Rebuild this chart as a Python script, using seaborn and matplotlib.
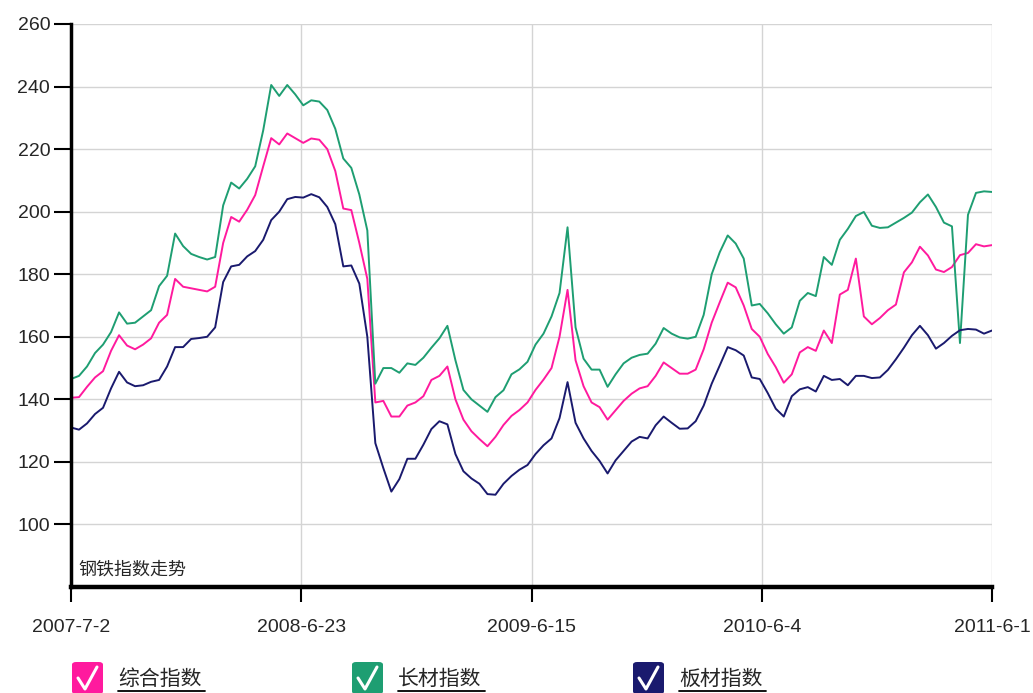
import matplotlib
matplotlib.use("Agg")
import matplotlib.pyplot as plt
from matplotlib.lines import Line2D
from matplotlib.patches import FancyBboxPatch
import numpy as np
import pandas as pd
import seaborn as sns

# 钢铁指数, weekly-ish samples from 2007-7-2 to 2011-6-1
tick_labels = ["2007-7-2", "2008-6-23", "2009-6-15", "2010-6-4", "2011-6-1"]

composite = [
    140.5, 140.7, 144.0, 147.0, 149.0, 155.5, 160.5, 157.2, 156.0, 157.5,
    159.5, 164.5, 167.0, 178.5, 176.0, 175.5, 175.0, 174.5, 176.0, 190.0,
    198.3, 196.8, 200.6, 205.3, 214.5, 223.5, 221.5, 225.0, 223.5, 222.0,
    223.4, 223.0, 220.0, 213.0, 201.0, 200.5, 190.0, 178.5, 139.0, 139.5,
    134.5, 134.5, 138.0, 139.0, 141.0, 146.2, 147.5, 150.5, 140.0, 133.5,
    129.8, 127.3, 125.0, 128.0, 131.8, 134.7, 136.6, 139.0, 143.0, 146.3,
    150.0, 160.0, 175.0, 152.5, 144.2, 139.0, 137.5, 133.5, 136.5, 139.5,
    141.8, 143.5, 144.2, 147.5, 151.8, 150.0, 148.2, 148.2, 149.5, 156.0,
    164.5, 171.0, 177.3, 175.8, 170.0, 162.5, 160.0, 154.5, 150.3, 145.3,
    148.0, 155.0, 156.7, 155.5, 162.0, 158.0, 173.5, 175.0, 185.0, 166.5,
    164.0, 166.0, 168.5, 170.3, 180.6, 183.8, 188.8, 186.0, 181.5, 180.7,
    182.3, 186.1, 186.8, 189.6, 188.9, 189.3,
]

long_steel = [
    146.5, 147.5, 150.5, 154.8, 157.5, 161.5, 167.8, 164.2, 164.5, 166.5,
    168.5, 176.2, 179.5, 193.0, 189.0, 186.5, 185.5, 184.7, 185.5, 202.0,
    209.3, 207.4, 210.5, 214.5, 226.0, 240.5, 237.0, 240.5, 237.5, 234.0,
    235.6, 235.2, 232.5, 226.5, 217.0, 214.0, 205.5, 194.0, 145.0, 150.0,
    150.0, 148.5, 151.5, 151.0, 153.3, 156.5, 159.5, 163.5, 152.5, 143.0,
    140.0, 138.0, 136.0, 140.7, 142.9, 148.0, 149.6, 152.0, 157.5, 161.0,
    166.5, 174.0, 195.0, 163.0, 153.0, 149.5, 149.5, 144.0, 148.0, 151.5,
    153.3, 154.2, 154.6, 157.8, 162.8, 161.0, 159.8, 159.4, 160.0, 167.0,
    180.0, 187.0, 192.4, 189.8, 185.0, 170.0, 170.5, 167.5, 164.0, 161.0,
    163.0, 171.5, 174.0, 173.0, 185.5, 183.0, 191.0, 194.5, 198.6, 199.9,
    195.5, 194.8, 195.0, 196.5, 198.0, 199.7, 203.0, 205.5, 201.5, 196.5,
    195.3, 158.0, 199.0, 206.0, 206.5, 206.3,
]

plate_steel = [
    131.0, 130.3, 132.3, 135.3, 137.3, 143.5, 148.8, 145.4, 144.2, 144.5,
    145.6, 146.2, 150.5, 156.7, 156.7, 159.3, 159.6, 160.0, 163.0, 177.5,
    182.5, 183.0, 185.7, 187.4, 191.0, 197.3, 200.0, 204.0, 204.7, 204.5,
    205.6, 204.6, 201.5, 196.0, 182.5, 182.8, 177.0, 160.0, 126.0, 118.0,
    110.5, 114.5, 121.0, 121.0, 125.5, 130.5, 133.0, 132.0, 122.5, 117.0,
    114.7, 113.0, 109.7, 109.5, 113.0, 115.5, 117.5, 119.0, 122.5, 125.3,
    127.5, 134.0, 145.5, 132.5, 127.5, 123.5, 120.3, 116.3, 120.5, 123.5,
    126.5, 128.0, 127.5, 131.7, 134.5, 132.5, 130.6, 130.7, 133.0, 138.0,
    145.0, 150.8, 156.7, 155.7, 154.0, 147.0, 146.5, 142.0, 137.0, 134.5,
    141.0, 143.2, 143.9, 142.5, 147.5, 146.2, 146.5, 144.5, 147.5, 147.5,
    146.8, 147.0, 149.4, 152.8, 156.5, 160.5, 163.5, 160.5, 156.2, 158.0,
    160.3, 162.1, 162.5, 162.3, 161.0, 162.0,
]

series_names = ["综合指数", "长材指数", "板材指数"]
colors = ["#FF1A9E", "#1E9E72", "#1A1A6E"]

n = len(composite)
df = pd.DataFrame({
    "idx": np.tile(np.arange(n), 3),
    "value": composite + long_steel + plate_steel,
    "series": np.repeat(series_names, n),
})

sns.set_style("white")
plt.rcParams["font.family"] = ["Liberation Sans", "Noto Sans CJK SC", "DejaVu Sans"]

W, H = 1033, 693
fig = plt.figure(figsize=(W / 100, H / 100), dpi=100)
ax = fig.add_axes([71 / W, 1 - 587 / H, (992 - 71) / W, (587 - 24) / H])

sns.lineplot(data=df, x="idx", y="value", hue="series", hue_order=series_names,
             palette=colors, linewidth=1.4, legend=False, ax=ax)

ax.set_xlim(0, n - 1)
ax.set_ylim(80, 260)
ax.set_yticks(range(100, 261, 20))
xt = np.linspace(0, n - 1, 5)
ax.set_xticks(xt)
ax.set_xticklabels(tick_labels)
ax.set_xlabel("")
ax.set_ylabel("")
ax.grid(True, color="#d4d4d4", linewidth=1)
ax.set_axisbelow(True)

for s in ["top", "right"]:
    ax.spines[s].set_visible(False)
ax.spines["left"].set_linewidth(2.5)
ax.spines["bottom"].set_linewidth(3.2)
ax.spines["left"].set_color("black")
ax.spines["bottom"].set_color("black")
ax.tick_params(axis="y", length=12, width=1.5, color="black", labelsize=14, pad=3)
ax.tick_params(axis="x", length=11, width=1.5, color="black", labelsize=14, pad=12)
ax.tick_params(left=True, bottom=True)

ax.text(0.008, 0.015, "钢铁指数走势", transform=ax.transAxes, fontsize=13,
        family=["Noto Sans CJK SC"], va="bottom", ha="left")

# legend row with check boxes
box_x = [72, 352, 633]
for bx, name, c in zip(box_x, series_names, colors):
    box = FancyBboxPatch((bx / W, 1 - 694 / H), 31 / W, 32 / H,
                         boxstyle="round,pad=0,rounding_size=0.004",
                         transform=fig.transFigure, facecolor=c, edgecolor="none")
    fig.add_artist(box)
    fig.add_artist(Line2D([(bx + 6) / W, (bx + 13) / W, (bx + 25) / W],
                          [1 - 678 / H, 1 - 689 / H, 1 - 667 / H],
                          transform=fig.transFigure, color="white", linewidth=2.2))
    tx = bx + 46
    fig.text(tx / W, 1 - 679 / H, name, fontsize=15, va="center", ha="left",
             family=["Noto Sans CJK SC"])
    fig.add_artist(Line2D([tx / W, (tx + 87) / W], [1 - 691 / H, 1 - 691 / H],
                          transform=fig.transFigure, color="black", linewidth=1.3))

fig.savefig("out.png", dpi=100)
